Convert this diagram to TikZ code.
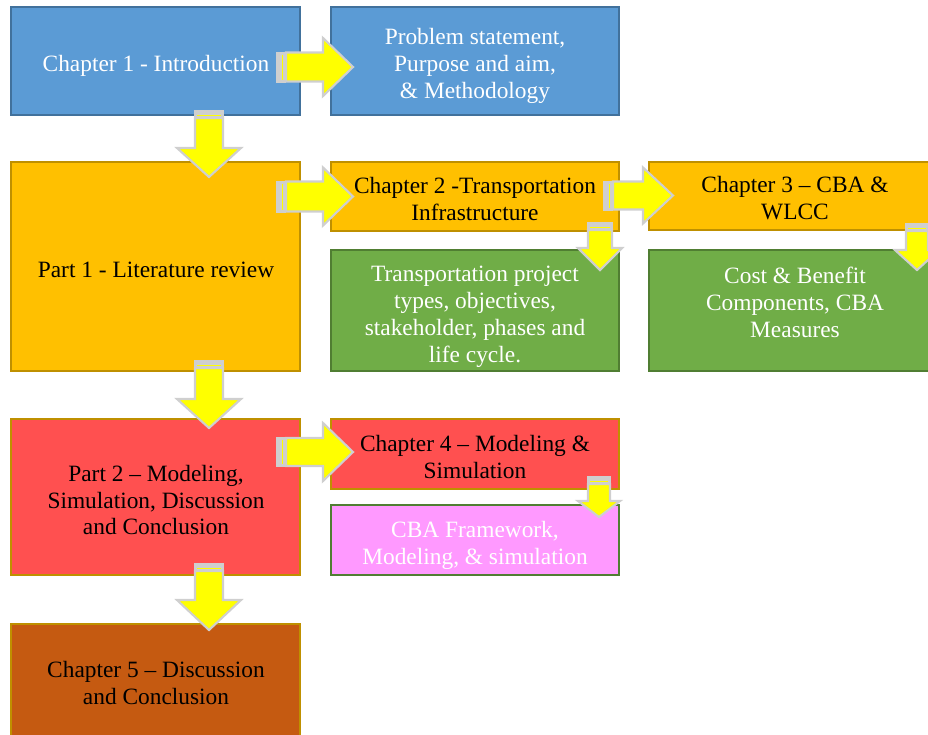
\documentclass[tikz,border=0pt]{standalone}
\usepackage{fontspec}
\setmainfont{Liberation Serif}
\definecolor{cblue}{HTML}{5B9BD5}
\definecolor{cblueD}{HTML}{41719C}
\definecolor{corange}{HTML}{FFC000}
\definecolor{cgold}{HTML}{BF9000}
\definecolor{cgreen}{HTML}{70AD47}
\definecolor{cgreenD}{HTML}{507E32}
\definecolor{cred}{HTML}{FF5050}
\definecolor{cpink}{HTML}{FF99FF}
\definecolor{cbrown}{HTML}{C55A11}
\definecolor{agray}{HTML}{CFCFCF}
\definecolor{ayellow}{HTML}{FFFF00}

% striped block arrow pointing right: tail x, centre y, tip x, shaft half height, head half height, head length
\newcommand\stripeR[6]{%
  \fill[agray] (#1,{#2-#4-1}) rectangle ({#1+10},{#2+#4+1});
  \draw[ayellow,line width=0.7pt] ({#1+6.5},{#2-#4+2}) -- ({#1+6.5},{#2+#4-2});
  \draw[blockarrow] ({#1+10},{#2-#4}) -- ({#3-#6},{#2-#4}) -- ({#3-#6},{#2-#5})
    -- (#3,#2) -- ({#3-#6},{#2+#5}) -- ({#3-#6},{#2+#4}) -- ({#1+10},{#2+#4}) -- cycle;
}
% striped block arrow pointing down: centre x, tail y, tip y, shaft half width, head half width, head length
\newcommand\stripeD[6]{%
  \fill[agray] ({#1-#4-1},#2) rectangle ({#1+#4+1},{#2+8});
  \draw[ayellow,line width=0.7pt] ({#1-#4+2},{#2+5}) -- ({#1+#4-2},{#2+5});
  \draw[blockarrow] ({#1-#4},{#2+8}) -- ({#1-#4},{#3-#6}) -- ({#1-#5},{#3-#6})
    -- (#1,#3) -- ({#1+#5},{#3-#6}) -- ({#1+#4},{#3-#6}) -- ({#1+#4},{#2+8}) -- cycle;
}

\begin{document}
\begin{tikzpicture}[x=0.02646cm,y=-0.02646cm,
  box/.style={line width=1.5pt},
  lbl/.style={align=center,inner sep=0pt,font=\fontsize{17.6}{20.3}\selectfont},
  blockarrow/.style={fill=ayellow,draw=agray,line width=1.6pt,line join=miter}]
\useasboundingbox (0,0) rectangle (928,734);
\clip (0,0) rectangle (928,734);

% boxes
\draw[box,fill=cblue,draw=cblueD] (11,7) rectangle (300,115);
\draw[box,fill=cblue,draw=cblueD] (331,7) rectangle (619,115);
\draw[box,fill=corange,draw=cgold] (11,162) rectangle (300,371);
\draw[box,fill=corange,draw=cgold] (331,162) rectangle (619,231);
\draw[box,fill=corange,draw=cgold] (649,162) rectangle (941,230);
\draw[box,fill=cgreen,draw=cgreenD] (331,250) rectangle (619,371);
\draw[box,fill=cgreen,draw=cgreenD] (649,250) rectangle (941,371);
\draw[box,fill=cred,draw=cgold] (11,419) rectangle (300,575);
\draw[box,fill=cred,draw=cgold] (331,419) rectangle (619,489);
\draw[box,fill=cpink,draw=cgreenD] (331,505) rectangle (619,575);
\draw[box,fill=cbrown,draw=cgold] (11,624) rectangle (300,741);

% labels
\node[lbl,text=white] (ch1) at (156,66) {Chapter 1 - Introduction};
\node[lbl,text=white] (prob) at (475,66) {Problem statement,\\Purpose and aim,\\\& Methodology};
\node[lbl] (part1) at (156,270) {Part 1 - Literature review};
\node[lbl] (ch2) at (475,199) {Chapter 2 -Transportation\\Infrastructure};
\node[lbl] (ch3) at (795,198) {Chapter 3 -- CBA \&\\WLCC};
\node[lbl,text=white] (trans) at (475,316.5) {Transportation project\\types, objectives,\\stakeholder, phases and\\life cycle.};
\node[lbl,text=white] (cost) at (795,302) {Cost \& Benefit\\Components, CBA\\Measures};
\node[lbl] (part2) at (156,500) {Part 2 -- Modeling,\\Simulation, Discussion\\and Conclusion};
\node[lbl] (ch4) at (475,457) {Chapter 4 -- Modeling \&\\Simulation};
\node[lbl,text=white] (cba) at (475,545.5) {CBA Framework,\\Modeling, \& simulation};
\node[lbl] (ch5) at (156,683) {Chapter 5 -- Discussion\\and Conclusion};

% flow arrows
\stripeR{276}{67}{353}{14.5}{29}{30}
\stripeD{209}{110}{177}{14}{32}{29}
\stripeR{276}{196.5}{353}{15}{29}{30}
\stripeR{603}{195.5}{673}{14}{28}{30}
\stripeD{600}{222}{270}{12}{22}{22}
\stripeD{917}{223}{270}{11}{22}{20}
\stripeD{209}{360}{428}{14}{32}{29}
\stripeR{276}{452}{353}{14}{29}{30}
\stripeD{599}{476}{517}{11}{21}{16}
\stripeD{209}{563}{630}{14}{32}{30}
\end{tikzpicture}
\end{document}
